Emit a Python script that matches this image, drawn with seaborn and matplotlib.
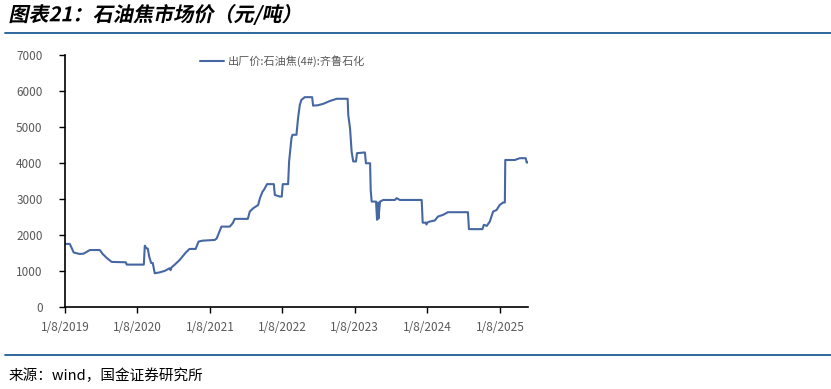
#!/usr/bin/env python

import datetime as dt
import pandas as pd
import matplotlib
matplotlib.use('Agg')
import matplotlib.pyplot as plt
import matplotlib.dates as mdates
from matplotlib.ticker import FuncFormatter
from matplotlib.patheffects import AbstractPathEffect
from matplotlib.transforms import Affine2D
import seaborn as sns

# Price readings (yuan/ton)
DATES = [
    '2019-01-08', '2019-02-02', '2019-02-22', '2019-03-24', '2019-04-13',
    '2019-05-14', '2019-07-03', '2019-07-18', '2019-08-07', '2019-09-01',
    '2019-11-11', '2019-11-16', '2020-02-10', '2020-02-15', '2020-02-23',
    '2020-03-01', '2020-03-08', '2020-03-18', '2020-03-26', '2020-04-05',
    '2020-04-30', '2020-05-25', '2020-06-19', '2020-06-24', '2020-06-29',
    '2020-07-14', '2020-08-08', '2020-09-07', '2020-09-27', '2020-10-28',
    '2020-11-12', '2020-12-02', '2021-02-01', '2021-02-11', '2021-03-07',
    '2021-04-18', '2021-05-03', '2021-05-13', '2021-07-18', '2021-07-28',
    '2021-08-14', '2021-09-08', '2021-09-17', '2021-09-30', '2021-10-07',
    '2021-10-23', '2021-11-26', '2021-12-01', '2021-12-26', '2022-01-05',
    '2022-01-10', '2022-02-06', '2022-02-11', '2022-02-23', '2022-02-28',
    '2022-03-20', '2022-03-28', '2022-04-06', '2022-04-14', '2022-05-01',
    '2022-06-07', '2022-06-12', '2022-07-06', '2022-08-02', '2022-09-05',
    '2022-10-09', '2022-12-03', '2022-12-06', '2022-12-15', '2022-12-23',
    '2022-12-31', '2023-01-14', '2023-01-19', '2023-02-28', '2023-03-05',
    '2023-03-26', '2023-03-29', '2023-04-03', '2023-04-25', '2023-04-30',
    '2023-05-05', '2023-05-07', '2023-05-15', '2023-05-31', '2023-07-29',
    '2023-08-07', '2023-08-23', '2023-12-11', '2023-12-16', '2024-01-01',
    '2024-01-04', '2024-01-08', '2024-01-20', '2024-02-15', '2024-03-02',
    '2024-03-27', '2024-04-21', '2024-07-31', '2024-08-05', '2024-10-12',
    '2024-10-19', '2024-11-03', '2024-11-18', '2024-12-05', '2024-12-22',
    '2025-01-07', '2025-01-24', '2025-02-02', '2025-02-04', '2025-03-24',
    '2025-04-18', '2025-05-18', '2025-05-23', '2025-05-28',
]
PRICES = [
    1750, 1750, 1510, 1470, 1480,
    1580, 1580, 1470, 1360, 1250,
    1240, 1175, 1175, 1700, 1630,
    1620, 1400, 1220, 1220, 935,
    960, 1000, 1075, 1020, 1100,
    1170, 1300, 1500, 1610, 1610,
    1815, 1840, 1860, 1900, 2230,
    2230, 2325, 2445, 2445, 2650,
    2740, 2830, 3020, 3200, 3250,
    3410, 3410, 3110, 3065, 3065,
    3410, 3410, 4040, 4690, 4780,
    4780, 5240, 5610, 5750, 5825,
    5825, 5590, 5600, 5640, 5720,
    5780, 5780, 5330, 4960, 4310,
    4040, 4040, 4270, 4290, 3990,
    3990, 3250, 2925, 2925, 2420,
    2900, 2450, 2925, 2970, 2970,
    3020, 2970, 2970, 2340, 2340,
    2290, 2340, 2370, 2400, 2510,
    2555, 2630, 2630, 2160, 2160,
    2280, 2250, 2370, 2650, 2690,
    2830, 2900, 2900, 4080, 4080,
    4130, 4130, 4010, 4010,
]
SERIES_NAME = '出厂价:石油焦(4#):齐鲁石化'
TITLE = '图表21：石油焦市场价（元/吨）'
SOURCE = '来源：wind，国金证券研究所'
TICK_YEARS = [2019, 2020, 2021, 2022, 2023, 2024, 2025]
Y_TICKS = [0, 1000, 2000, 3000, 4000, 5000, 6000, 7000]

LINE_COLOR = '#4767a3'
RULE_COLOR = '#1d5c96'


class Slant(AbstractPathEffect):
    """Fake italics: shear glyph paths (CJK fonts have no italic face)."""

    def __init__(self, angle=12):
        super().__init__()
        self.angle = angle

    def draw_path(self, renderer, gc, tpath, affine, rgbFace=None):
        renderer.draw_path(gc, tpath,
                           Affine2D().skew_deg(self.angle, 0) + affine,
                           rgbFace)


def date_label(v, pos):
    d = mdates.num2date(v)
    return '%d/%d/%d' % (d.month, d.day, d.year)


def main():
    sns.set_style('white')
    plt.rcParams['font.family'] = ['Noto Sans CJK SC', 'DejaVu Sans']

    df = pd.DataFrame({'date': pd.to_datetime(DATES), 'price': PRICES})

    fig = plt.figure(figsize=(8.31, 3.89), dpi=100)
    ax = fig.add_axes([0.078, 0.211, 0.557, 0.648])
    sns.lineplot(data=df, x='date', y='price', ax=ax, estimator=None,
                 color=LINE_COLOR, linewidth=1.5, label=SERIES_NAME)

    ax.set_xlim(pd.Timestamp('2019-01-08'), pd.Timestamp('2025-05-28'))
    ax.set_ylim(0, 7000)
    ax.set_yticks(Y_TICKS)
    ax.set_xticks([mdates.date2num(dt.date(y, 1, 8)) for y in TICK_YEARS])
    ax.xaxis.set_major_formatter(FuncFormatter(date_label))
    ax.set_xlabel('')
    ax.set_ylabel('')

    for side in ['top', 'right']:
        ax.spines[side].set_visible(False)
    for side in ['left', 'bottom']:
        ax.spines[side].set_color('black')
        ax.spines[side].set_linewidth(1.2)
    ax.tick_params(axis='both', which='major', direction='out', length=4,
                   width=1, color='black', labelsize=8.5,
                   labelcolor='#595959', left=True, bottom=True)
    ax.tick_params(axis='y', pad=12)
    ax.tick_params(axis='x', pad=6)

    leg = ax.legend(loc='upper center', bbox_to_anchor=(0.47, 1.04),
                    frameon=False, fontsize=8, handlelength=2.2,
                    handletextpad=0.3)
    for t in leg.get_texts():
        t.set_color('#595959')

    fig.text(0.01, 0.962, TITLE, fontsize=14.5, fontweight='bold',
             va='center', ha='left', color='black',
             path_effects=[Slant(12)])
    fig.add_artist(plt.Line2D([0.006, 1.0], [0.914, 0.914],
                              color=RULE_COLOR, linewidth=1.3))
    fig.add_artist(plt.Line2D([0.006, 1.0], [0.087, 0.087],
                              color=RULE_COLOR, linewidth=1.3))
    fig.text(0.01, 0.033, SOURCE, fontsize=10.5, va='center', ha='left',
             color='black')

    fig.savefig('out.png', dpi=100)


if __name__ == '__main__':
    main()
